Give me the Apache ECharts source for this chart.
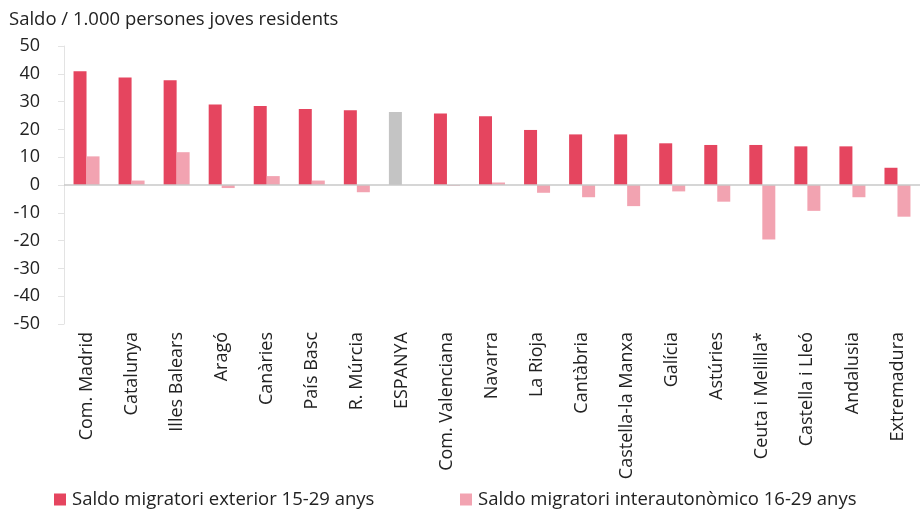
<!DOCTYPE html>
<html>
<head>
<meta charset="utf-8">
<script src="https://cdn.jsdelivr.net/npm/echarts@6/dist/echarts.min.js"></script>
<style>
  html, body { margin: 0; padding: 0; background: #fff; }
  #chart { width: 920px; height: 513px; }
</style>
</head>
<body>
<div id="chart"></div>
<script>
// comunitats ordenades pel saldo exterior
var regions = [
  "Com. Madrid", "Catalunya", "Illes Balears", "Aragó", "Canàries",
  "País Basc", "R. Múrcia", "ESPANYA", "Com. Valenciana", "Navarra",
  "La Rioja", "Cantàbria", "Castella-la Manxa", "Galícia", "Astúries",
  "Ceuta i Melilla*", "Castella i Lleó", "Andalusia", "Extremadura"
];
var exterior = [
  40.9, 38.7, 37.7, 29.0, 28.4, 27.3, 26.9, 26.3, 25.7, 24.7,
  19.8, 18.2, 18.2, 15.0, 14.4, 14.4, 13.9, 13.9, 6.2
];
var interautonomic = [
  10.3, 1.6, 11.8, -1.1, 3.2, 1.6, -2.6, null, -0.3, 0.9,
  -2.8, -4.4, -7.6, -2.3, -6.0, -19.6, -9.3, -4.4, -11.4
];
var yTicks = { min: -50, max: 50, step: 10 };

var FONT = "Open Sans";
var RED = "#e5455f";
var PINK = "#f2a3b1";
var GREY = "#c4c4c4";

var chart = echarts.init(document.getElementById("chart"));

var exteriorData = exterior.map(function (v, i) {
  if (regions[i] === "ESPANYA") {
    return { value: v, itemStyle: { color: GREY } };
  }
  return v;
});

var legendText = { fontFamily: FONT, fontSize: 18.5, color: "#222", padding: [0, 0, 0, 1] };

var option = {
  animation: false,
  textStyle: { fontFamily: FONT },
  title: {
    text: "Saldo / 1.000 persones joves residents",
    left: 4,
    top: 5,
    textStyle: { fontFamily: FONT, fontSize: 18.5, fontWeight: "normal", color: "#222" }
  },
  legend: [
    {
      data: ["Saldo migratori exterior 15-29 anys"],
      left: 54,
      top: 490,
      padding: 0,
      icon: "rect",
      itemWidth: 12,
      itemHeight: 12,
      textStyle: legendText
    },
    {
      data: ["Saldo migratori interautonòmico 16-29 anys"],
      left: 460,
      top: 490,
      padding: 0,
      icon: "rect",
      itemWidth: 12,
      itemHeight: 12,
      textStyle: legendText
    }
  ],
  grid: { left: 64, top: 46, bottom: 189, width: 863 },
  xAxis: {
    type: "category",
    data: regions,
    axisLine: { show: false, onZero: false },
    axisTick: { show: false },
    axisLabel: {
      interval: 0,
      rotate: 90,
      margin: 8,
      fontSize: 18,
      color: "#222",
      fontFamily: FONT
    }
  },
  yAxis: {
    type: "value",
    min: yTicks.min,
    max: yTicks.max,
    interval: yTicks.step,
    axisLine: { show: true, lineStyle: { color: "#e3e3e3" } },
    axisTick: { show: true, length: 6, lineStyle: { color: "#e3e3e3" } },
    splitLine: { show: false },
    axisLabel: { fontSize: 18, color: "#222", margin: 24, fontFamily: FONT }
  },
  series: [
    {
      name: "Saldo migratori exterior 15-29 anys",
      type: "bar",
      data: exteriorData,
      barWidth: 13,
      barGap: "0%",
      itemStyle: { color: RED },
      markLine: {
        silent: true,
        symbol: "none",
        label: { show: false },
        lineStyle: { color: "#c8c8c8", width: 1.5, type: "solid" },
        data: [{ yAxis: 0 }]
      }
    },
    {
      name: "Saldo migratori interautonòmico 16-29 anys",
      type: "bar",
      data: interautonomic,
      barWidth: 13,
      barGap: "0%",
      itemStyle: { color: PINK }
    }
  ]
};

chart.setOption(option);
</script>
</body>
</html>
